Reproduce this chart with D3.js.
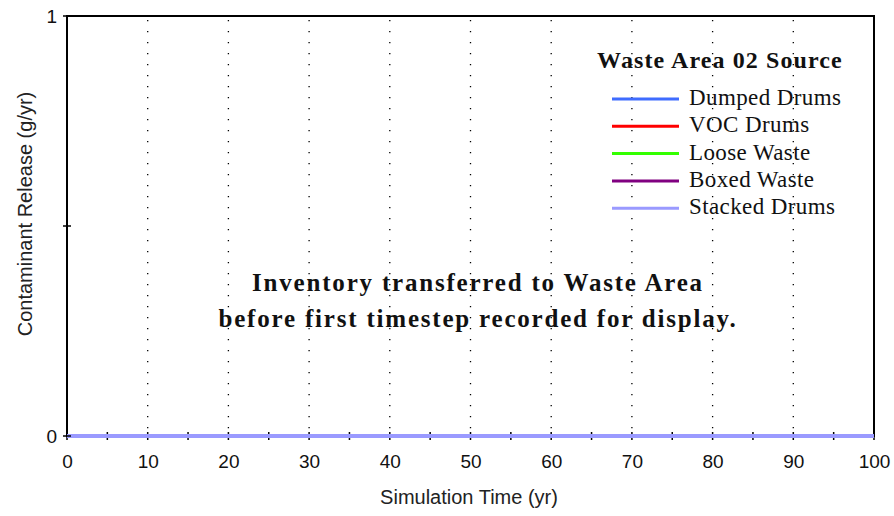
<!DOCTYPE html>
<html>
<head>
<meta charset="utf-8">
<script src="https://cdn.jsdelivr.net/npm/d3@7"></script>
<style>
body { margin: 0; background: #fff; }
</style>
</head>
<body>
<div class="chart"></div>
<script>
const times = [0, 10, 20, 30, 40, 50, 60, 70, 80, 90, 100];
const seriesNames = ['Dumped Drums', 'VOC Drums', 'Loose Waste', 'Boxed Waste', 'Stacked Drums'];
const seriesColors = ['#3f6cff', '#ff0000', '#33ff00', '#800080', '#9a9aff'];
const dumpedDrums = [0, 0, 0, 0, 0, 0, 0, 0, 0, 0, 0];
const vocDrums = [0, 0, 0, 0, 0, 0, 0, 0, 0, 0, 0];
const looseWaste = [0, 0, 0, 0, 0, 0, 0, 0, 0, 0, 0];
const boxedWaste = [0, 0, 0, 0, 0, 0, 0, 0, 0, 0, 0];
const stackedDrums = [0, 0, 0, 0, 0, 0, 0, 0, 0, 0, 0];
const seriesValues = [dumpedDrums, vocDrums, looseWaste, boxedWaste, stackedDrums];
const xTicks = [0, 10, 20, 30, 40, 50, 60, 70, 80, 90, 100];
const xMinorTicks = [5, 15, 25, 35, 45, 55, 65, 75, 85, 95];
const yTicks = [0, 1];
const note = ['Inventory transferred to Waste Area', 'before first timestep recorded for display.'];

const width = 894;
const height = 516;
const pLeft = 67, pRight = 874, pTop = 16, pBottom = 436;
const sans = 'Liberation Sans, Arial, sans-serif';
const serif = 'Liberation Serif, Times New Roman, serif';

const svg = d3.select('.chart')
    .append('svg')
    .attr('width', width)
    .attr('height', height)

const x = d3.scaleLinear().domain([0, 100]).range([pLeft, pRight]);
const y = d3.scaleLinear().domain([0, 1]).range([pBottom, pTop]);

// dotted grid
svg.selectAll('.grid')
    .data(xTicks.slice(1, -1))
    .enter()
    .append('line')
    .attr('x1', d => x(d))
    .attr('x2', d => x(d))
    .attr('y1', pTop + 4)
    .attr('y2', pBottom)
    .attr('stroke', '#000')
    .attr('stroke-width', 1.3)
    .attr('stroke-dasharray', '1.3,9.7')

// frame
svg.append('rect')
    .attr('x', pLeft)
    .attr('y', pTop)
    .attr('width', pRight - pLeft)
    .attr('height', pBottom - pTop)
    .attr('fill', 'none')
    .attr('stroke', '#000')
    .attr('stroke-width', 2)

svg.selectAll('.xtick')
    .data(xTicks.concat(xMinorTicks))
    .enter()
    .append('line')
    .attr('x1', d => x(d))
    .attr('x2', d => x(d))
    .attr('y1', pBottom - 4)
    .attr('y2', pBottom + 4)
    .attr('stroke', '#000')
    .attr('stroke-width', 1.5)

// lines
const line = d3.line()
    .x((d, i) => x(times[i]))
    .y(d => y(d))
seriesValues.forEach((vals, i) => {
    svg.append('path')
        .attr('d', line(vals))
        .attr('fill', 'none')
        .attr('stroke', seriesColors[i])
        .attr('stroke-width', 4)
})

// x axis labels
const xAxis = svg.append('g')
    .attr('transform', `translate(0,${pBottom + 4})`)
    .call(d3.axisBottom(x).tickValues(xTicks).tickSize(0).tickPadding(15))
xAxis.select('.domain').remove()
xAxis.selectAll('text')
    .attr('font-family', sans)
    .attr('font-size', 19)
    .attr('fill', '#111')

// y axis
const yAxis = svg.append('g')
    .attr('transform', `translate(${pLeft - 4},0)`)
    .call(d3.axisLeft(y).tickValues(yTicks).tickFormat(d3.format('d')).tickSize(0).tickPadding(6))
yAxis.select('.domain').remove()
yAxis.selectAll('text')
    .attr('font-family', sans)
    .attr('font-size', 19)
    .attr('fill', '#111')

svg.selectAll('.ytick')
    .data([0, 0.5, 1])
    .enter()
    .append('line')
    .attr('x1', pLeft - 4)
    .attr('x2', pLeft + 4)
    .attr('y1', d => y(d))
    .attr('y2', d => y(d))
    .attr('stroke', '#000')
    .attr('stroke-width', 1.5)

// axis titles
svg.append('text')
    .attr('x', 469)
    .attr('y', 504)
    .attr('text-anchor', 'middle')
    .attr('font-family', sans)
    .attr('font-size', 20)
    .attr('fill', '#222')
    .text('Simulation Time (yr)')

svg.append('text')
    .attr('transform', `translate(32,214) rotate(-90)`)
    .attr('text-anchor', 'middle')
    .attr('font-family', sans)
    .attr('font-size', 20)
    .attr('fill', '#222')
    .text('Contaminant Release (g/yr)')

// legend
svg.append('text')
    .attr('x', 720)
    .attr('y', 68)
    .attr('text-anchor', 'middle')
    .attr('font-family', serif)
    .attr('font-weight', 'bold')
    .attr('font-size', 24)
    .attr('letter-spacing', 1.1)
    .attr('fill', '#111')
    .text('Waste Area 02 Source')

const legend = svg.selectAll('.legend')
    .data(seriesNames)
    .enter()
    .append('g')
    .attr('transform', (d, i) => `translate(612,${99 + i * 27.3})`)
legend.append('line')
    .attr('x1', 0)
    .attr('x2', 67)
    .attr('stroke', (d, i) => seriesColors[i])
    .attr('stroke-width', 3)
legend.append('text')
    .attr('x', 77)
    .attr('y', 6)
    .attr('font-family', serif)
    .attr('font-size', 23)
    .attr('letter-spacing', 0.4)
    .attr('fill', '#111')
    .text(d => d)

// note
svg.selectAll('.note')
    .data(note)
    .enter()
    .append('text')
    .attr('x', 478)
    .attr('y', (d, i) => 291 + i * 36)
    .attr('text-anchor', 'middle')
    .attr('font-family', serif)
    .attr('font-weight', 'bold')
    .attr('font-size', 25)
    .attr('letter-spacing', 1.8)
    .attr('fill', '#111')
    .text(d => d)
</script>
</body>
</html>
